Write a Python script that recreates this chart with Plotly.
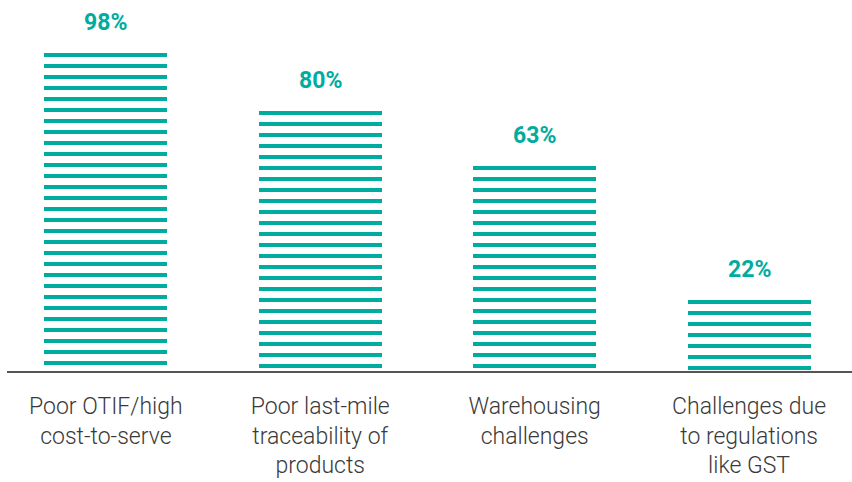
import plotly.graph_objects as go

categories = ["Poor OTIF/high<br>cost-to-serve",
              "Poor last-mile<br>traceability of<br>products",
              "Warehousing<br>challenges",
              "Challenges due<br>to regulations<br>like GST"]
values = [98, 80, 63, 22]
value_labels = ["98%", "80%", "63%", "22%"]

TEAL = "#00ACA0"
PLOT_H = 371          # plot area height in px
PX_PER_UNIT = 3.25    # vertical scale
YMAX = PLOT_H / PX_PER_UNIT
PITCH = 11 / PX_PER_UNIT   # stripe pitch (11 px)
THICK = 4 / PX_PER_UNIT    # stripe thickness (4 px)

xs, bases, heights = [], [], []
for cat, v in zip(categories, values):
    k = 0
    while v - k * PITCH - THICK > -0.6:
        top = v - k * PITCH
        base = max(top - THICK, 0)
        xs.append(cat)
        bases.append(base)
        heights.append(top - base)
        k += 1

fig = go.Figure()
fig.add_trace(go.Bar(
    x=xs, y=heights, base=bases, width=0.574,
    marker=dict(color=TEAL, line=dict(width=0)),
    hoverinfo="skip", showlegend=False,
))

for cat, v, lab in zip(categories, values, value_labels):
    fig.add_annotation(x=cat, y=v, text=lab, showarrow=False,
                       yanchor="bottom", yshift=15,
                       font=dict(family="Roboto, Arial, sans-serif", size=23,
                                 color=TEAL, weight="bold"))

fig.update_layout(
    width=852, height=482,
    margin=dict(l=7, r=0, t=0, b=482 - PLOT_H),
    paper_bgcolor="white", plot_bgcolor="white",
    barmode="overlay", bargap=0,
    showlegend=False,
    xaxis=dict(type="category", categoryorder="array", categoryarray=categories,
               range=[-0.461, 3.48], showgrid=False, zeroline=False,
               showline=True, linecolor="#555555", linewidth=2,
               ticks="", ticklabelstandoff=13,
               tickfont=dict(family="Roboto, Arial, sans-serif", size=23,
                             color="#3a3a3a", weight=300)),
    yaxis=dict(range=[0, YMAX], visible=False, showgrid=False, zeroline=False),
)

fig.write_html("out.html")
